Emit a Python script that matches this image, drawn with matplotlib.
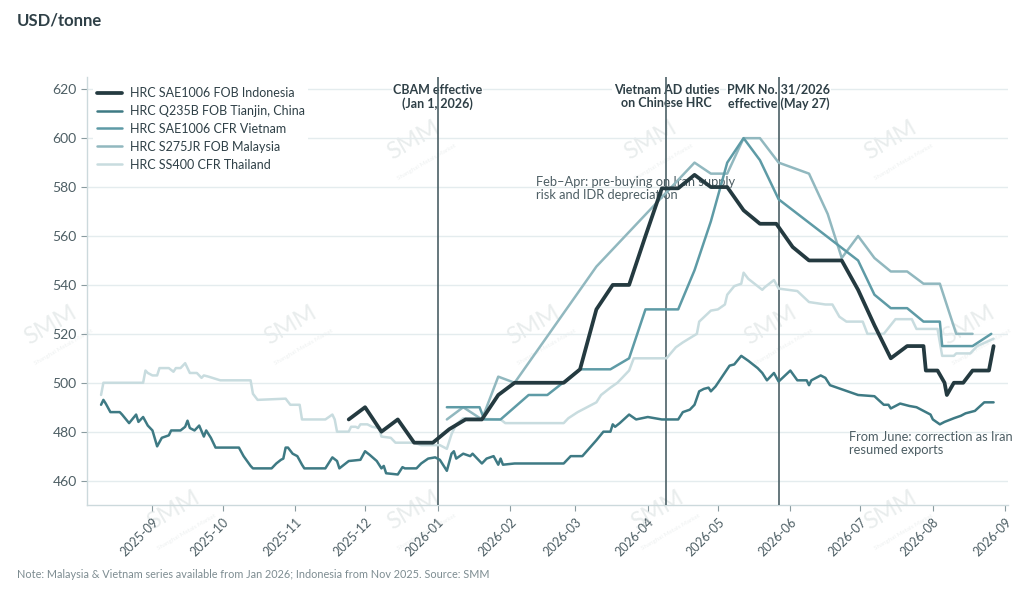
import matplotlib
matplotlib.use("Agg")
import matplotlib.pyplot as plt
import matplotlib.dates as mdates
import pandas as pd

plt.rcParams['font.family'] = ['Lato', 'DejaVu Sans']

# ---- data ----
indo_dates = ["2025-11-24", "2025-12-01", "2025-12-08", "2025-12-15", "2025-12-22", "2025-12-30",
              "2026-01-06", "2026-01-13", "2026-01-20", "2026-01-27", "2026-02-03", "2026-02-24",
              "2026-03-03", "2026-03-10", "2026-03-17", "2026-03-24", "2026-03-31", "2026-04-07",
              "2026-04-14", "2026-04-21", "2026-04-28", "2026-05-05", "2026-05-12", "2026-05-19",
              "2026-05-26", "2026-06-02", "2026-06-09", "2026-06-23", "2026-06-30", "2026-07-07",
              "2026-07-14", "2026-07-21", "2026-07-28", "2026-07-29", "2026-08-03", "2026-08-06",
              "2026-08-07", "2026-08-10", "2026-08-14", "2026-08-18", "2026-08-25", "2026-08-27"]
indo_vals = [485, 490, 480, 485, 475.5, 475.5,
             481, 485, 485, 495, 500, 500,
             505.5, 530, 540, 540, 560, 579.5,
             579.5, 585, 580, 580, 570.5, 565,
             565, 555.5, 550, 550, 538, 523.5,
             510, 515, 515, 505, 505, 500,
             495, 500, 500, 505, 505, 515]

china_dates = ["2025-08-10", "2025-08-11", "2025-08-12", "2025-08-14", "2025-08-18", "2025-08-19",
               "2025-08-22", "2025-08-25", "2025-08-26", "2025-08-28", "2025-08-30", "2025-09-01",
               "2025-09-03", "2025-09-05", "2025-09-08", "2025-09-09", "2025-09-13", "2025-09-15",
               "2025-09-16", "2025-09-17", "2025-09-19", "2025-09-21", "2025-09-23", "2025-09-24",
               "2025-09-26", "2025-09-28", "2025-10-08", "2025-10-10", "2025-10-13", "2025-10-14",
               "2025-10-22", "2025-10-24", "2025-10-26", "2025-10-27", "2025-10-28", "2025-10-29",
               "2025-10-31", "2025-11-02", "2025-11-04", "2025-11-05", "2025-11-14", "2025-11-17",
               "2025-11-19", "2025-11-20", "2025-11-24", "2025-11-29", "2025-12-01", "2025-12-03",
               "2025-12-06", "2025-12-08", "2025-12-09", "2025-12-10", "2025-12-15", "2025-12-17",
               "2025-12-18", "2025-12-23", "2025-12-25", "2025-12-28", "2025-12-31", "2026-01-02",
               "2026-01-05", "2026-01-07", "2026-01-08", "2026-01-09", "2026-01-12", "2026-01-15",
               "2026-01-16", "2026-01-20", "2026-01-22", "2026-01-25", "2026-01-27", "2026-01-28",
               "2026-01-29", "2026-02-03", "2026-02-24", "2026-02-27", "2026-03-04", "2026-03-10",
               "2026-03-13", "2026-03-16", "2026-03-17", "2026-03-18", "2026-03-20", "2026-03-24",
               "2026-03-27", "2026-04-01", "2026-04-07", "2026-04-14", "2026-04-16", "2026-04-19",
               "2026-04-21", "2026-04-23", "2026-04-25", "2026-04-27", "2026-04-28", "2026-04-30",
               "2026-05-06", "2026-05-08", "2026-05-11", "2026-05-14", "2026-05-18", "2026-05-20",
               "2026-05-22", "2026-05-25", "2026-05-27", "2026-06-01", "2026-06-04", "2026-06-08",
               "2026-06-09", "2026-06-10", "2026-06-14", "2026-06-16", "2026-06-18", "2026-06-24",
               "2026-06-30", "2026-07-07", "2026-07-11", "2026-07-13", "2026-07-14", "2026-07-18",
               "2026-07-22", "2026-07-25", "2026-07-28", "2026-07-31", "2026-08-01", "2026-08-04",
               "2026-08-06", "2026-08-10", "2026-08-13", "2026-08-15", "2026-08-19", "2026-08-23",
               "2026-08-27"]
china_vals = [491, 493, 491.5, 488, 488, 487,
              483.5, 487, 484, 486, 482.5, 480.5,
              474, 477.5, 478.5, 480.5, 480.5, 482,
              484.5, 481.5, 480.5, 482.5, 478, 480.5,
              477.5, 473.5, 473.5, 470, 466, 465,
              465, 467, 468.5, 469, 473.5, 473.5,
              471, 470, 466.5, 465, 465, 469.5,
              468, 465, 468, 468.5, 472, 470.5,
              468, 465, 466, 463, 462.5, 465.5,
              465, 465, 467, 469, 469.5, 468.5,
              464, 471, 472, 469, 471, 470,
              471, 467, 469, 470, 466.5, 469,
              466.5, 467, 467, 470, 470, 476.5,
              480, 480, 483, 482, 483.5, 487,
              485, 486, 485, 485, 488, 489,
              491, 496.5, 497.5, 498, 496.5, 498.5,
              507, 507.5, 511, 509, 506, 504,
              501, 504, 500.5, 505, 501, 501,
              499, 501, 503, 502, 499, 497,
              495, 494.5, 491, 491, 489.5, 491.5,
              490.5, 490, 488.5, 487, 485, 483,
              484, 485.5, 486.5, 487.5, 488.5, 492,
              492]

viet_dates = ["2026-01-05", "2026-01-19", "2026-01-21", "2026-01-28", "2026-02-09", "2026-02-17",
              "2026-03-03", "2026-03-16", "2026-03-24", "2026-03-31", "2026-04-14", "2026-04-21",
              "2026-04-28", "2026-05-05", "2026-05-12", "2026-05-19", "2026-05-27", "2026-06-30",
              "2026-07-07", "2026-07-14", "2026-07-21", "2026-07-28", "2026-08-04", "2026-08-05",
              "2026-08-18", "2026-08-26"]
viet_vals = [490, 490, 485, 485, 495, 495,
             505.5, 505.5, 510, 530, 530, 546,
             566, 590, 600, 591, 575, 550,
             536, 530.5, 530.5, 525, 525, 515,
             515, 520]

malay_dates = ["2026-01-05", "2026-01-12", "2026-01-20", "2026-01-27", "2026-02-03", "2026-03-10",
               "2026-04-21", "2026-04-28", "2026-05-05", "2026-05-12", "2026-05-19", "2026-05-27",
               "2026-06-09", "2026-06-17", "2026-06-23", "2026-06-30", "2026-07-07", "2026-07-14",
               "2026-07-21", "2026-07-28", "2026-08-04", "2026-08-11", "2026-08-18"]
malay_vals = [485, 490, 485, 502.5, 500, 547.5,
              590, 585.5, 585.5, 600, 600, 590,
              585.5, 569, 551, 560, 551, 545.5,
              545.5, 540.5, 540.5, 520, 520]

thai_dates = ["2025-08-10", "2025-08-11", "2025-08-28", "2025-08-29", "2025-08-30", "2025-09-01",
              "2025-09-03", "2025-09-04", "2025-09-08", "2025-09-10", "2025-09-11", "2025-09-13",
              "2025-09-15", "2025-09-17", "2025-09-20", "2025-09-22", "2025-09-23", "2025-09-25",
              "2025-09-30", "2025-10-13", "2025-10-14", "2025-10-16", "2025-10-28", "2025-10-30",
              "2025-11-03", "2025-11-04", "2025-11-14", "2025-11-17", "2025-11-18", "2025-11-19",
              "2025-11-24", "2025-11-25", "2025-11-27", "2025-11-28", "2025-11-29", "2025-12-02",
              "2025-12-04", "2025-12-07", "2025-12-08", "2025-12-12", "2025-12-14", "2025-12-22",
              "2025-12-25", "2026-01-02", "2026-01-05", "2026-01-07", "2026-01-09", "2026-01-12",
              "2026-01-28", "2026-01-30", "2026-02-24", "2026-02-26", "2026-03-02", "2026-03-06",
              "2026-03-10", "2026-03-12", "2026-03-16", "2026-03-19", "2026-03-24", "2026-03-26",
              "2026-04-09", "2026-04-13", "2026-04-16", "2026-04-22", "2026-04-23", "2026-04-28",
              "2026-05-01", "2026-05-04", "2026-05-05", "2026-05-08", "2026-05-11", "2026-05-12",
              "2026-05-14", "2026-05-20", "2026-05-21", "2026-05-25", "2026-05-27", "2026-06-04",
              "2026-06-09", "2026-06-16", "2026-06-19", "2026-06-22", "2026-06-25", "2026-07-02",
              "2026-07-04", "2026-07-11", "2026-07-16", "2026-07-23", "2026-07-25", "2026-08-03",
              "2026-08-05", "2026-08-10", "2026-08-11", "2026-08-17", "2026-08-20", "2026-08-27"]
thai_vals = [495, 500, 500, 505, 504, 503,
             503, 506, 506, 504.5, 506, 506,
             508, 504, 504, 502, 503, 502.5,
             501, 501, 495.5, 493, 493.5, 491,
             491, 485, 485, 487, 485, 480,
             480, 482, 482, 481.5, 483, 483,
             482, 481.5, 478, 477.5, 475.5, 475.5,
             474.5, 474.5, 473, 479, 483, 485.5,
             485, 483.5, 483.5, 485.5, 488, 490,
             492, 495, 498, 500, 505, 510,
             510, 514.5, 516.5, 520, 525, 529.5,
             530, 532, 536, 539.5, 540.5, 545,
             542.5, 538, 539, 542, 538.5, 537.5,
             533, 532, 532, 527, 525, 525,
             520, 520, 526, 526, 522, 522,
             511, 511, 512, 512, 515, 518]

series = [
    ("HRC SAE1006 FOB Indonesia", indo_dates, indo_vals, "#243a40", 2.7),
    ("HRC Q235B FOB Tianjin, China", china_dates, china_vals, "#3e7a84", 1.8),
    ("HRC SAE1006 CFR Vietnam", viet_dates, viet_vals, "#5e9ba6", 1.8),
    ("HRC S275JR FOB Malaysia", malay_dates, malay_vals, "#91b8bf", 1.8),
    ("HRC SS400 CFR Thailand", thai_dates, thai_vals, "#c8dcdf", 1.8),
]

events = [
    ("2026-01-01", "CBAM effective\n(Jan 1, 2026)"),
    ("2026-04-09", "Vietnam AD duties\non Chinese HRC"),
    ("2026-05-27", "PMK No. 31/2026\neffective (May 27)"),
]

text_dark = "#2f4047"
text_mid = "#4d5e64"

fig = plt.figure(figsize=(10.24, 5.97), dpi=100)
ax = fig.add_axes([0.085, 0.154, 0.899, 0.717])

# faint watermarks
wm_pos = [(413, 140), (650, 140), (890, 140),
          (50, 325), (290, 325), (533, 325), (770, 325), (968, 325),
          (173, 510), (413, 510), (657, 510), (890, 510)]
for px, py in wm_pos:
    ax.text(px / 1024, 1 - py / 597, "SMM", transform=fig.transFigure, rotation=30,
            fontsize=17, color="#e9eded", ha="center", va="center", zorder=0.2, clip_on=False)
    ax.text((px + 14) / 1024, 1 - (py + 22) / 597, "Shanghai Metals Market", transform=fig.transFigure,
            rotation=30, fontsize=4.5, color="#eef1f1", ha="center", va="center", zorder=0.2,
            clip_on=False)

# price lines, lightest drawn first so the Indonesia line sits on top
for name, d, v, c, lw in reversed(series):
    ax.plot(pd.to_datetime(d), v, color=c, lw=lw, label=name, zorder=4,
            solid_joinstyle="round", solid_capstyle="round")

for d, label in events:
    x = pd.Timestamp(d)
    ax.axvline(x, color="#4b6066", lw=1.2, zorder=3)
    ax.text(x, 622.3, label, ha="center", va="top", fontsize=9, fontweight="bold",
            color=text_dark, linespacing=1.15, zorder=2.5,
            bbox=dict(boxstyle="square,pad=0.1", fc="white", ec="none"))

ax.text(pd.Timestamp("2026-02-12"), 584.5, "Feb\u2013Apr: pre-buying on Iran supply\nrisk and IDR depreciation",
        ha="left", va="top", fontsize=9.3, color=text_mid, linespacing=1.1, zorder=3.5)
ax.text(pd.Timestamp("2026-06-26"), 480.2, "From June: correction as Iran\nresumed exports",
        ha="left", va="top", fontsize=9.3, color=text_mid, linespacing=1.1, zorder=3.5)

ax.set_xlim(pd.Timestamp("2025-08-04"), pd.Timestamp("2026-09-02"))
ax.set_ylim(450, 625)
ax.set_yticks(range(460, 621, 20))
ax.xaxis.set_major_locator(mdates.MonthLocator())
ax.xaxis.set_major_formatter(mdates.DateFormatter("%Y-%m"))
plt.setp(ax.get_xticklabels(), rotation=45, ha="right", rotation_mode="anchor")

ax.grid(axis="y", color="#e4ecee", lw=1)
ax.set_axisbelow(True)
for s in ["top", "right"]:
    ax.spines[s].set_visible(False)
for s in ["left", "bottom"]:
    ax.spines[s].set_color("#ccd9dc")
    ax.spines[s].set_linewidth(1)
ax.tick_params(axis="y", colors="#8a9ba0", labelcolor=text_mid, labelsize=10, length=4)
ax.tick_params(axis="x", colors="#8a9ba0", labelcolor=text_mid, labelsize=9, length=4)

handles, labels = ax.get_legend_handles_labels()
leg = ax.legend(handles[::-1], labels[::-1], loc="upper left", bbox_to_anchor=(0.0, 1.0),
                fontsize=9, frameon=True, facecolor="white", edgecolor="none", framealpha=1,
                handlelength=2.0, handletextpad=0.6, labelspacing=0.47, borderpad=0.3)
for t in leg.get_texts():
    t.set_color(text_dark)
leg.set_zorder(5)

fig.text(17 / 1024, 1 - 20 / 597, "USD/tonne", fontsize=12, fontweight="bold",
         color=text_dark, ha="left", va="center")
fig.text(17 / 1024, 1 - 575 / 597,
         "Note: Malaysia & Vietnam series available from Jan 2026; Indonesia from Nov 2025. Source: SMM",
         fontsize=7.8, color="#7d8c91", ha="left", va="center")

fig.savefig("out.png", dpi=100)
